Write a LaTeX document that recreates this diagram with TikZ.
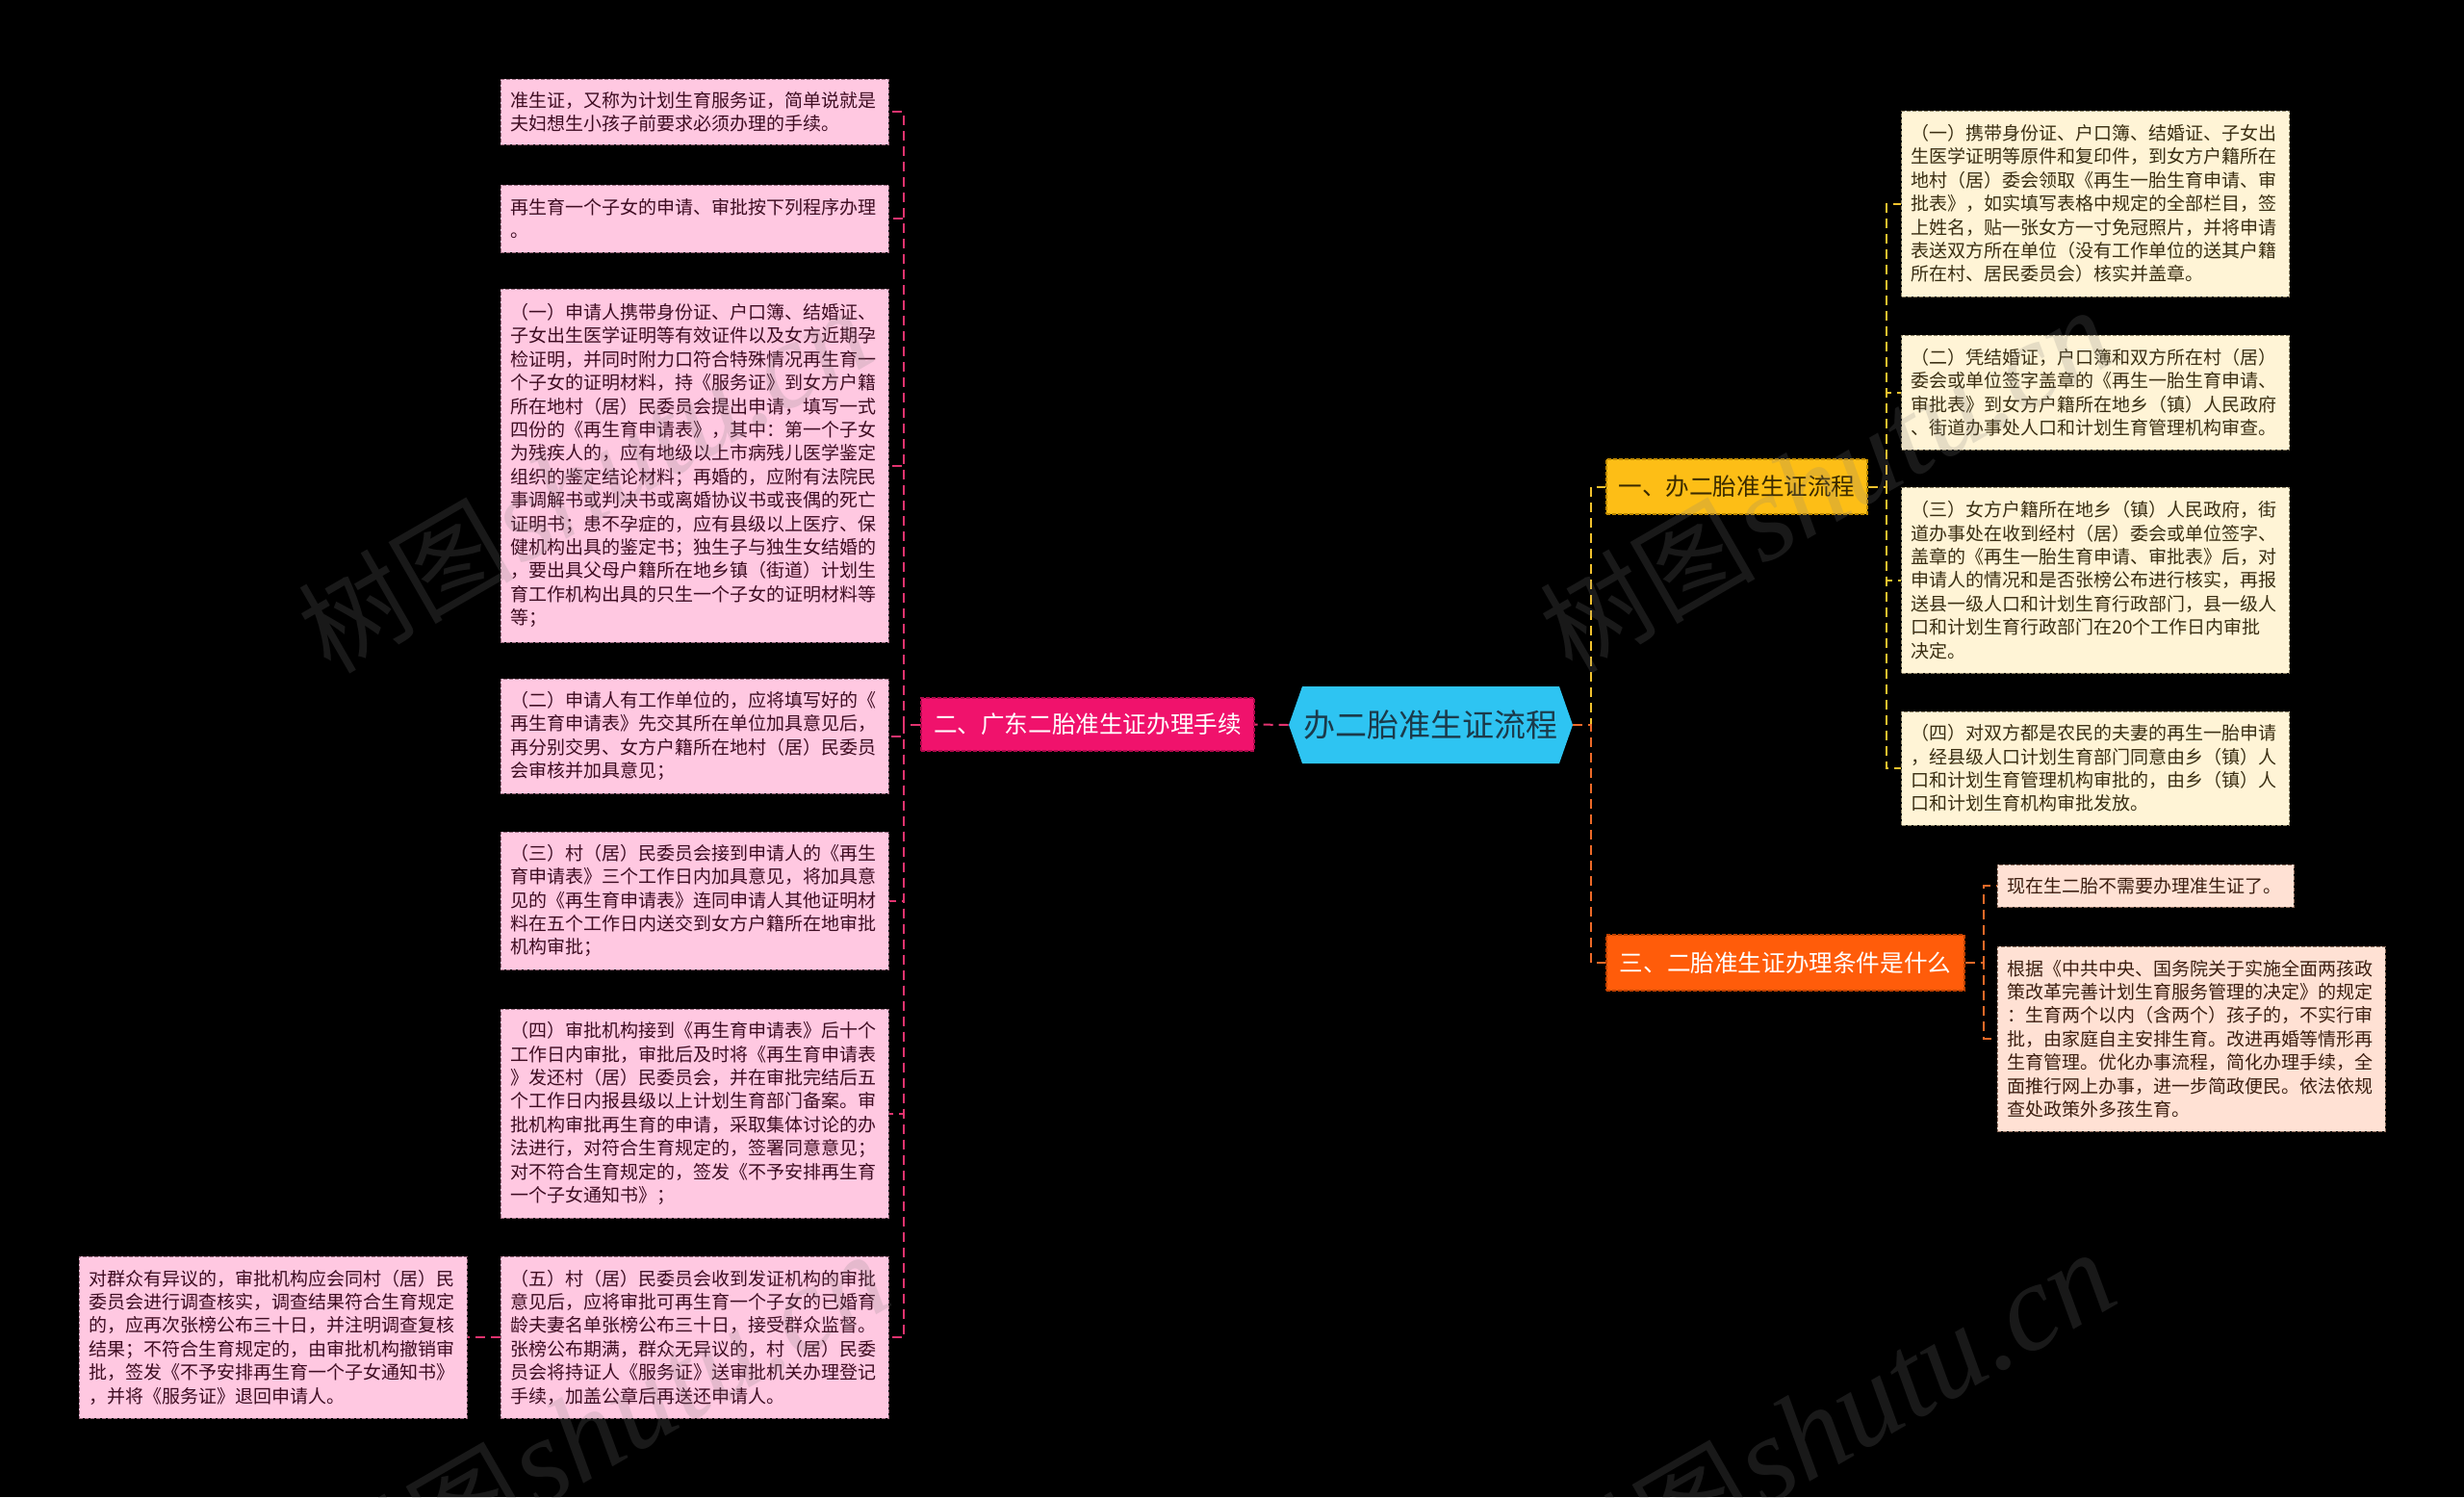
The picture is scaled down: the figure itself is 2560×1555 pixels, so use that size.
\documentclass[tikz,border=0pt]{standalone}
\usepackage{fontspec}
\setmainfont{Noto Sans CJK SC}
\newfontfamily\wmcjk{Noto Sans CJK SC}
\newfontfamily\wmlat{Liberation Serif}
\definecolor{bgC}{HTML}{000000}
\definecolor{rootC}{HTML}{2EC4F2}
\definecolor{rootT}{HTML}{1B3A4A}
\definecolor{mainPink}{HTML}{F0126C}
\definecolor{mainPinkB}{HTML}{B00A4C}
\definecolor{mainYel}{HTML}{FDBE16}
\definecolor{mainYelB}{HTML}{C08A00}
\definecolor{mainYelT}{HTML}{3A2A00}
\definecolor{mainOra}{HTML}{FF5C0A}
\definecolor{mainOraB}{HTML}{C04000}
\definecolor{leafPink}{HTML}{FFC8E1}
\definecolor{leafPinkB}{HTML}{9A6A7E}
\definecolor{leafPinkT}{HTML}{3E0C22}
\definecolor{leafCream}{HTML}{FFF4D6}
\definecolor{leafCreamB}{HTML}{8E8468}
\definecolor{leafCreamT}{HTML}{3A2E12}
\definecolor{leafPeach}{HTML}{FFE1D4}
\definecolor{leafPeachB}{HTML}{907060}
\definecolor{leafPeachT}{HTML}{3C1E10}
\definecolor{conPinkC}{HTML}{E2336F}
\definecolor{conYelC}{HTML}{F2C22E}
\definecolor{conOraC}{HTML}{EE6A28}
\begin{document}
\begin{tikzpicture}[x=0.5pt,y=-0.5pt,
  leafbase/.style={align=left, inner xsep=5pt, inner ysep=0pt,
    font=\fontsize{9.5}{12.2}\selectfont, dash pattern=on 2pt off 1pt, line width=0.5pt},
  leafL/.style={leafbase, fill=leafPink, draw=leafPinkB, text=leafPinkT,
    text width=191.5pt, minimum width=201.5pt},
  leafR/.style={leafbase, fill=leafCream, draw=leafCreamB, text=leafCreamT,
    text width=191.5pt, minimum width=201.5pt},
  leafO/.style={leafbase, fill=leafPeach, draw=leafPeachB, text=leafPeachT},
  mainbase/.style={inner sep=0pt, font=\fontsize{12.3}{14}\selectfont,
    dash pattern=on 2pt off 1pt, line width=0.6pt},
  conP/.style={draw=conPinkC, line width=1pt, dash pattern=on 5pt off 3pt},
  conY/.style={draw=conYelC, line width=1pt, dash pattern=on 5pt off 3pt},
  conO/.style={draw=conOraC, line width=1pt, dash pattern=on 5pt off 3pt},
  wmark/.style={rotate=30, anchor=base west, text=gray, opacity=0.2, inner sep=0pt}
]
\useasboundingbox (0,0) rectangle (2560,1555);
\clip (0,0) rectangle (2560,1555);
\fill[bgC] (0,0) rectangle (2560,1555);

% root hexagon
\fill[rootC] (1339,753) -- (1353,713) -- (1620,713) -- (1634,753) -- (1620,793) -- (1353,793) -- cycle;
\node[inner sep=0pt, minimum width=147.5pt, minimum height=40pt, text=rootT,
  font=\fontsize{16.5}{18}\selectfont] (root) at (1486.5,753) {办二胎准生证流程};

% main branches
\node[mainbase, fill=mainPink, draw=mainPinkB, text=white, minimum width=173pt, minimum height=27.5pt]
  (pinkM) at (1130,752.5) {二、广东二胎准生证办理手续};
\node[mainbase, fill=mainYel, draw=mainYelB, text=mainYelT, minimum width=135.5pt, minimum height=28.5pt]
  (yelM) at (1804.5,505.5) {一、办二胎准生证流程};
\node[mainbase, fill=mainOra, draw=mainOraB, text=white, minimum width=186pt, minimum height=29pt]
  (oraM) at (1855,1000) {三、二胎准生证办理条件是什么};

% left leaves
\node[leafL, minimum height=34pt] (L1) at (721.5,116) {准生证，又称为计划生育服务证，简单说就是\\夫妇想生小孩子前要求必须办理的手续。};
\node[leafL, minimum height=35pt] (L2) at (721.5,227) {再生育一个子女的申请、审批按下列程序办理\\。};
\node[leafL, minimum height=183.5pt] (L3) at (721.5,483.5) {（一）申请人携带身份证、户口簿、结婚证、\\子女出生医学证明等有效证件以及女方近期孕\\检证明，并同时附力口符合特殊情况再生育一\\个子女的证明材料，持《服务证》到女方户籍\\所在地村（居）民委员会提出申请，填写一式\\四份的《再生育申请表》，其中：第一个子女\\为残疾人的，应有地级以上市病残儿医学鉴定\\组织的鉴定结论材料；再婚的，应附有法院民\\事调解书或判决书或离婚协议书或丧偶的死亡\\证明书；患不孕症的，应有县级以上医疗、保\\健机构出具的鉴定书；独生子与独生女结婚的\\，要出具父母户籍所在地乡镇（街道）计划生\\育工作机构出具的只生一个子女的证明材料等\\等；};
\node[leafL, minimum height=59.5pt] (L4) at (721.5,764.5) {（二）申请人有工作单位的，应将填写好的《\\再生育申请表》先交其所在单位加具意见后，\\再分别交男、女方户籍所在地村（居）民委员\\会审核并加具意见；};
\node[leafL, minimum height=71.5pt] (L5) at (721.5,935.5) {（三）村（居）民委员会接到申请人的《再生\\育申请表》三个工作日内加具意见，将加具意\\见的《再生育申请表》连同申请人其他证明材\\料在五个工作日内送交到女方户籍所在地审批\\机构审批；};
\node[leafL, minimum height=108.5pt] (L6) at (721.5,1156.5) {（四）审批机构接到《再生育申请表》后十个\\工作日内审批，审批后及时将《再生育申请表\\》发还村（居）民委员会，并在审批完结后五\\个工作日内报县级以上计划生育部门备案。审\\批机构审批再生育的申请，采取集体讨论的办\\法进行，对符合生育规定的，签署同意意见；\\对不符合生育规定的，签发《不予安排再生育\\一个子女通知书》；};
\node[leafL, minimum height=84pt] (L7) at (721.5,1389) {（五）村（居）民委员会收到发证机构的审批\\意见后，应将审批可再生育一个子女的已婚育\\龄夫妻名单张榜公布三十日，接受群众监督。\\张榜公布期满，群众无异议的，村（居）民委\\员会将持证人《服务证》送审批机关办理登记\\手续，加盖公章后再送还申请人。};
\node[leafL, minimum height=84pt] (L8) at (283.5,1389) {对群众有异议的，审批机构应会同村（居）民\\委员会进行调查核实，调查结果符合生育规定\\的，应再次张榜公布三十日，并注明调查复核\\结果；不符合生育规定的，由审批机构撤销审\\批，签发《不予安排再生育一个子女通知书》\\，并将《服务证》退回申请人。};

% right leaves (yellow branch)
\node[leafR, minimum height=96.5pt] (R1) at (2177,211.5) {（一）携带身份证、户口簿、结婚证、子女出\\生医学证明等原件和复印件，到女方户籍所在\\地村（居）委会领取《再生一胎生育申请、审\\批表》，如实填写表格中规定的全部栏目，签\\上姓名，贴一张女方一寸免冠照片，并将申请\\表送双方所在单位（没有工作单位的送其户籍\\所在村、居民委员会）核实并盖章。};
\node[leafR, minimum height=59.5pt] (R2) at (2177,407.5) {（二）凭结婚证，户口簿和双方所在村（居）\\委会或单位签字盖章的《再生一胎生育申请、\\审批表》到女方户籍所在地乡（镇）人民政府\\、街道办事处人口和计划生育管理机构审查。};
\node[leafR, minimum height=96.5pt] (R3) at (2177,602.5) {（三）女方户籍所在地乡（镇）人民政府，街\\道办事处在收到经村（居）委会或单位签字、\\盖章的《再生一胎生育申请、审批表》后，对\\申请人的情况和是否张榜公布进行核实，再报\\送县一级人口和计划生育行政部门，县一级人\\口和计划生育行政部门在20个工作日内审批\\决定。};
\node[leafR, minimum height=59pt] (R4) at (2177,798) {（四）对双方都是农民的夫妻的再生一胎申请\\，经县级人口计划生育部门同意由乡（镇）人\\口和计划生育管理机构审批的，由乡（镇）人\\口和计划生育机构审批发放。};

% right leaves (orange branch)
\node[leafO, text width=144pt, minimum width=154pt, minimum height=22pt] (O1) at (2229,920) {现在生二胎不需要办理准生证了。};
\node[leafO, text width=191.5pt, minimum width=201.5pt, minimum height=96pt] (O2) at (2276.5,1079) {根据《中共中央、国务院关于实施全面两孩政\\策改革完善计划生育服务管理的决定》的规定\\：生育两个以内（含两个）孩子的，不实行审\\批，由家庭自主安排生育。改进再婚等情形再\\生育管理。优化办事流程，简化办理手续，全\\面推行网上办事，进一步简政便民。依法依规\\查处政策外多孩生育。};

% connectors
\draw[conP] (root.west) -- (pinkM.east);
\foreach \n in {L1,L2,L3,L4,L5,L6,L7}{
  \draw[conP] (pinkM.west) -- ++(-17,0) |- (\n.east);
}
\draw[conP] (L7.west) -- (L8.east);
\draw[conY] (root.east) -- ++(19,0) |- (yelM.west);
\draw[conO] (root.east) -- ++(19,0) |- (oraM.west);
\foreach \n in {R1,R2,R3,R4}{
  \draw[conY] (yelM.east) -- ++(19,0) |- (\n.west);
}
\foreach \n in {O1,O2}{
  \draw[conO] (oraM.east) -- ++(19,0) |- (\n.west);
}

% watermarks
\node[wmark] (wm1) at (343,702) {{\wmcjk\fontsize{56}{60}\selectfont 树图} {\wmlat\itshape\fontsize{64}{66}\selectfont shutu.cn}};
\node[wmark] (wm2) at (1633,702) {{\wmcjk\fontsize{56}{60}\selectfont 树图} {\wmlat\itshape\fontsize{64}{66}\selectfont shutu.cn}};
\node[wmark] (wm3) at (361,1683) {{\wmcjk\fontsize{56}{60}\selectfont 树图} {\wmlat\itshape\fontsize{64}{66}\selectfont shutu.cn}};
\node[wmark] (wm4) at (1635,1681) {{\wmcjk\fontsize{56}{60}\selectfont 树图} {\wmlat\itshape\fontsize{64}{66}\selectfont shutu.cn}};
\end{tikzpicture}
\end{document}
